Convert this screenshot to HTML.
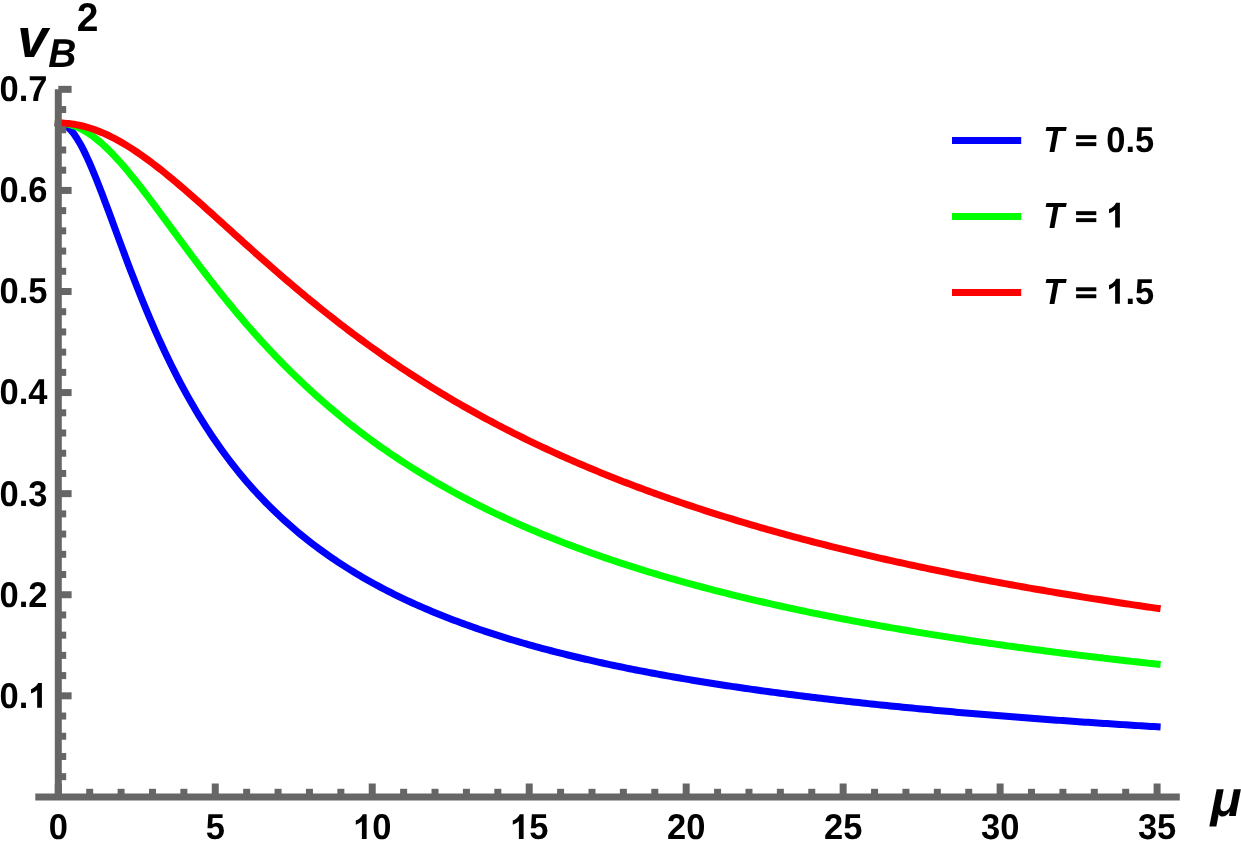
<!DOCTYPE html>
<html><head><meta charset="utf-8"><title>vB^2 vs mu</title>
<style>
html,body{margin:0;padding:0;background:#fff;}
body{width:1241px;height:848px;position:relative;overflow:hidden;font-family:"Liberation Sans",sans-serif;}
</style></head><body>
<svg width="1241" height="848" viewBox="0 0 1241 848" style="position:absolute;left:0;top:0;will-change:transform;text-rendering:geometricPrecision">
<rect width="1241" height="848" fill="#ffffff"/>
<path d="M58.30,123.03 L61.44,123.49 L64.58,124.84 L67.72,127.08 L70.86,130.16 L74.00,134.04 L77.14,138.67 L80.28,143.97 L83.42,149.89 L86.55,156.35 L89.69,163.28 L92.83,170.61 L95.97,178.27 L99.11,186.21 L102.25,194.36 L105.39,202.67 L108.53,211.09 L111.67,219.58 L114.81,228.11 L117.95,236.62 L121.09,245.11 L124.23,253.54 L127.37,261.90 L130.51,270.16 L133.65,278.31 L136.78,286.34 L139.92,294.24 L143.06,302.01 L146.20,309.63 L149.34,317.10 L152.48,324.42 L155.62,331.59 L158.76,338.61 L161.90,345.48 L165.04,352.19 L168.18,358.76 L171.32,365.17 L174.46,371.44 L177.60,377.56 L180.74,383.54 L183.88,389.38 L187.02,395.09 L190.15,400.66 L193.29,406.10 L196.43,411.41 L199.57,416.60 L202.71,421.67 L205.85,426.62 L208.99,431.46 L212.13,436.19 L215.27,440.80 L218.41,445.32 L221.55,449.73 L224.69,454.04 L227.83,458.25 L230.97,462.37 L234.11,466.40 L237.25,470.34 L240.39,474.19 L243.52,477.96 L246.66,481.65 L249.80,485.27 L252.94,488.80 L256.08,492.26 L259.22,495.65 L262.36,498.96 L265.50,502.21 L268.64,505.40 L271.78,508.51 L274.92,511.57 L278.06,514.56 L281.20,517.50 L284.34,520.38 L287.48,523.20 L290.62,525.96 L293.75,528.68 L296.89,531.34 L300.03,533.95 L303.17,536.51 L306.31,539.03 L309.45,541.50 L312.59,543.92 L315.73,546.30 L318.87,548.64 L322.01,550.93 L325.15,553.19 L328.29,555.40 L331.43,557.58 L334.57,559.72 L337.71,561.82 L340.85,563.88 L343.99,565.91 L347.12,567.91 L350.26,569.87 L353.40,571.80 L356.54,573.70 L359.68,575.57 L362.82,577.41 L365.96,579.22 L369.10,581.00 L372.24,582.75 L375.38,584.47 L378.52,586.17 L381.66,587.84 L384.80,589.48 L387.94,591.10 L391.08,592.69 L394.22,594.26 L397.36,595.81 L400.49,597.34 L403.63,598.84 L406.77,600.32 L409.91,601.77 L413.05,603.21 L416.19,604.63 L419.33,606.02 L422.47,607.40 L425.61,608.76 L428.75,610.09 L431.89,611.41 L435.03,612.71 L438.17,614.00 L441.31,615.26 L444.45,616.51 L447.59,617.74 L450.72,618.96 L453.86,620.16 L457.00,621.34 L460.14,622.51 L463.28,623.66 L466.42,624.80 L469.56,625.92 L472.70,627.03 L475.84,628.12 L478.98,629.20 L482.12,630.27 L485.26,631.32 L488.40,632.36 L491.54,633.39 L494.68,634.41 L497.82,635.41 L500.96,636.40 L504.09,637.38 L507.23,638.34 L510.37,639.30 L513.51,640.24 L516.65,641.18 L519.79,642.10 L522.93,643.01 L526.07,643.91 L529.21,644.80 L532.35,645.68 L535.49,646.55 L538.63,647.41 L541.77,648.26 L544.91,649.10 L548.05,649.93 L551.19,650.75 L554.33,651.57 L557.46,652.37 L560.60,653.17 L563.74,653.95 L566.88,654.73 L570.02,655.50 L573.16,656.26 L576.30,657.02 L579.44,657.76 L582.58,658.50 L585.72,659.23 L588.86,659.95 L592.00,660.67 L595.14,661.38 L598.28,662.08 L601.42,662.77 L604.56,663.46 L607.69,664.13 L610.83,664.81 L613.97,665.47 L617.11,666.13 L620.25,666.78 L623.39,667.43 L626.53,668.07 L629.67,668.70 L632.81,669.33 L635.95,669.95 L639.09,670.57 L642.23,671.18 L645.37,671.78 L648.51,672.38 L651.65,672.97 L654.79,673.56 L657.93,674.14 L661.06,674.71 L664.20,675.28 L667.34,675.85 L670.48,676.41 L673.62,676.96 L676.76,677.51 L679.90,678.06 L683.04,678.60 L686.18,679.13 L689.32,679.66 L692.46,680.19 L695.60,680.71 L698.74,681.22 L701.88,681.74 L705.02,682.24 L708.16,682.75 L711.30,683.24 L714.43,683.74 L717.57,684.23 L720.71,684.71 L723.85,685.19 L726.99,685.67 L730.13,686.14 L733.27,686.61 L736.41,687.08 L739.55,687.54 L742.69,688.00 L745.83,688.45 L748.97,688.90 L752.11,689.35 L755.25,689.79 L758.39,690.23 L761.53,690.66 L764.66,691.10 L767.80,691.53 L770.94,691.95 L774.08,692.37 L777.22,692.79 L780.36,693.21 L783.50,693.62 L786.64,694.03 L789.78,694.43 L792.92,694.83 L796.06,695.23 L799.20,695.63 L802.34,696.02 L805.48,696.41 L808.62,696.80 L811.76,697.18 L814.90,697.56 L818.03,697.94 L821.17,698.31 L824.31,698.69 L827.45,699.06 L830.59,699.42 L833.73,699.79 L836.87,700.15 L840.01,700.51 L843.15,700.86 L846.29,701.22 L849.43,701.57 L852.57,701.91 L855.71,702.26 L858.85,702.60 L861.99,702.94 L865.13,703.28 L868.27,703.62 L871.40,703.95 L874.54,704.28 L877.68,704.61 L880.82,704.94 L883.96,705.26 L887.10,705.58 L890.24,705.90 L893.38,706.22 L896.52,706.54 L899.66,706.85 L902.80,707.16 L905.94,707.47 L909.08,707.78 L912.22,708.08 L915.36,708.38 L918.50,708.68 L921.63,708.98 L924.77,709.28 L927.91,709.57 L931.05,709.86 L934.19,710.16 L937.33,710.44 L940.47,710.73 L943.61,711.02 L946.75,711.30 L949.89,711.58 L953.03,711.86 L956.17,712.14 L959.31,712.41 L962.45,712.69 L965.59,712.96 L968.73,713.23 L971.87,713.50 L975.00,713.76 L978.14,714.03 L981.28,714.29 L984.42,714.55 L987.56,714.81 L990.70,715.07 L993.84,715.33 L996.98,715.58 L1000.12,715.84 L1003.26,716.09 L1006.40,716.34 L1009.54,716.59 L1012.68,716.84 L1015.82,717.08 L1018.96,717.33 L1022.10,717.57 L1025.24,717.81 L1028.37,718.05 L1031.51,718.29 L1034.65,718.53 L1037.79,718.76 L1040.93,719.00 L1044.07,719.23 L1047.21,719.46 L1050.35,719.69 L1053.49,719.92 L1056.63,720.15 L1059.77,720.38 L1062.91,720.60 L1066.05,720.82 L1069.19,721.05 L1072.33,721.27 L1075.47,721.49 L1078.61,721.70 L1081.74,721.92 L1084.88,722.14 L1088.02,722.35 L1091.16,722.57 L1094.30,722.78 L1097.44,722.99 L1100.58,723.20 L1103.72,723.41 L1106.86,723.61 L1110.00,723.82 L1113.14,724.03 L1116.28,724.23 L1119.42,724.43 L1122.56,724.63 L1125.70,724.83 L1128.84,725.03 L1131.97,725.23 L1135.11,725.43 L1138.25,725.63 L1141.39,725.82 L1144.53,726.01 L1147.67,726.21 L1150.81,726.40 L1153.95,726.59 L1157.09,726.78" fill="none" stroke="#0000ff" stroke-width="7" stroke-linecap="square" stroke-linejoin="round"/>
<path d="M58.30,123.03 L61.44,123.15 L64.58,123.49 L67.72,124.05 L70.86,124.84 L74.00,125.85 L77.14,127.08 L80.28,128.52 L83.42,130.16 L86.55,132.01 L89.69,134.04 L92.83,136.27 L95.97,138.67 L99.11,141.24 L102.25,143.97 L105.39,146.86 L108.53,149.89 L111.67,153.06 L114.81,156.35 L117.95,159.76 L121.09,163.28 L124.23,166.90 L127.37,170.61 L130.51,174.40 L133.65,178.27 L136.78,182.21 L139.92,186.21 L143.06,190.26 L146.20,194.36 L149.34,198.50 L152.48,202.67 L155.62,206.87 L158.76,211.09 L161.90,215.33 L165.04,219.58 L168.18,223.84 L171.32,228.11 L174.46,232.37 L177.60,236.62 L180.74,240.87 L183.88,245.11 L187.02,249.34 L190.15,253.54 L193.29,257.73 L196.43,261.90 L199.57,266.04 L202.71,270.16 L205.85,274.25 L208.99,278.31 L212.13,282.34 L215.27,286.34 L218.41,290.31 L221.55,294.24 L224.69,298.14 L227.83,302.01 L230.97,305.83 L234.11,309.63 L237.25,313.38 L240.39,317.10 L243.52,320.78 L246.66,324.42 L249.80,328.03 L252.94,331.59 L256.08,335.12 L259.22,338.61 L262.36,342.07 L265.50,345.48 L268.64,348.86 L271.78,352.19 L274.92,355.49 L278.06,358.76 L281.20,361.98 L284.34,365.17 L287.48,368.32 L290.62,371.44 L293.75,374.52 L296.89,377.56 L300.03,380.57 L303.17,383.54 L306.31,386.48 L309.45,389.38 L312.59,392.25 L315.73,395.09 L318.87,397.89 L322.01,400.66 L325.15,403.39 L328.29,406.10 L331.43,408.77 L334.57,411.41 L337.71,414.02 L340.85,416.60 L343.99,419.15 L347.12,421.67 L350.26,424.16 L353.40,426.62 L356.54,429.05 L359.68,431.46 L362.82,433.84 L365.96,436.19 L369.10,438.51 L372.24,440.80 L375.38,443.07 L378.52,445.32 L381.66,447.53 L384.80,449.73 L387.94,451.89 L391.08,454.04 L394.22,456.15 L397.36,458.25 L400.49,460.32 L403.63,462.37 L406.77,464.40 L409.91,466.40 L413.05,468.38 L416.19,470.34 L419.33,472.28 L422.47,474.19 L425.61,476.09 L428.75,477.96 L431.89,479.82 L435.03,481.65 L438.17,483.47 L441.31,485.27 L444.45,487.04 L447.59,488.80 L450.72,490.54 L453.86,492.26 L457.00,493.96 L460.14,495.65 L463.28,497.31 L466.42,498.96 L469.56,500.60 L472.70,502.21 L475.84,503.81 L478.98,505.40 L482.12,506.96 L485.26,508.51 L488.40,510.05 L491.54,511.57 L494.68,513.07 L497.82,514.56 L500.96,516.04 L504.09,517.50 L507.23,518.94 L510.37,520.38 L513.51,521.79 L516.65,523.20 L519.79,524.59 L522.93,525.96 L526.07,527.33 L529.21,528.68 L532.35,530.02 L535.49,531.34 L538.63,532.65 L541.77,533.95 L544.91,535.24 L548.05,536.51 L551.19,537.78 L554.33,539.03 L557.46,540.27 L560.60,541.50 L563.74,542.72 L566.88,543.92 L570.02,545.12 L573.16,546.30 L576.30,547.48 L579.44,548.64 L582.58,549.79 L585.72,550.93 L588.86,552.07 L592.00,553.19 L595.14,554.30 L598.28,555.40 L601.42,556.50 L604.56,557.58 L607.69,558.65 L610.83,559.72 L613.97,560.77 L617.11,561.82 L620.25,562.86 L623.39,563.88 L626.53,564.90 L629.67,565.91 L632.81,566.92 L635.95,567.91 L639.09,568.90 L642.23,569.87 L645.37,570.84 L648.51,571.80 L651.65,572.76 L654.79,573.70 L657.93,574.64 L661.06,575.57 L664.20,576.49 L667.34,577.41 L670.48,578.32 L673.62,579.22 L676.76,580.11 L679.90,581.00 L683.04,581.87 L686.18,582.75 L689.32,583.61 L692.46,584.47 L695.60,585.32 L698.74,586.17 L701.88,587.00 L705.02,587.84 L708.16,588.66 L711.30,589.48 L714.43,590.29 L717.57,591.10 L720.71,591.90 L723.85,592.69 L726.99,593.48 L730.13,594.26 L733.27,595.04 L736.41,595.81 L739.55,596.58 L742.69,597.34 L745.83,598.09 L748.97,598.84 L752.11,599.58 L755.25,600.32 L758.39,601.05 L761.53,601.77 L764.66,602.50 L767.80,603.21 L770.94,603.92 L774.08,604.63 L777.22,605.33 L780.36,606.02 L783.50,606.71 L786.64,607.40 L789.78,608.08 L792.92,608.76 L796.06,609.43 L799.20,610.09 L802.34,610.76 L805.48,611.41 L808.62,612.07 L811.76,612.71 L814.90,613.36 L818.03,614.00 L821.17,614.63 L824.31,615.26 L827.45,615.89 L830.59,616.51 L833.73,617.13 L836.87,617.74 L840.01,618.35 L843.15,618.96 L846.29,619.56 L849.43,620.16 L852.57,620.75 L855.71,621.34 L858.85,621.93 L861.99,622.51 L865.13,623.09 L868.27,623.66 L871.40,624.23 L874.54,624.80 L877.68,625.36 L880.82,625.92 L883.96,626.48 L887.10,627.03 L890.24,627.58 L893.38,628.12 L896.52,628.66 L899.66,629.20 L902.80,629.74 L905.94,630.27 L909.08,630.80 L912.22,631.32 L915.36,631.85 L918.50,632.36 L921.63,632.88 L924.77,633.39 L927.91,633.90 L931.05,634.41 L934.19,634.91 L937.33,635.41 L940.47,635.91 L943.61,636.40 L946.75,636.89 L949.89,637.38 L953.03,637.86 L956.17,638.34 L959.31,638.82 L962.45,639.30 L965.59,639.77 L968.73,640.24 L971.87,640.71 L975.00,641.18 L978.14,641.64 L981.28,642.10 L984.42,642.56 L987.56,643.01 L990.70,643.46 L993.84,643.91 L996.98,644.36 L1000.12,644.80 L1003.26,645.24 L1006.40,645.68 L1009.54,646.12 L1012.68,646.55 L1015.82,646.98 L1018.96,647.41 L1022.10,647.84 L1025.24,648.26 L1028.37,648.68 L1031.51,649.10 L1034.65,649.52 L1037.79,649.93 L1040.93,650.34 L1044.07,650.75 L1047.21,651.16 L1050.35,651.57 L1053.49,651.97 L1056.63,652.37 L1059.77,652.77 L1062.91,653.17 L1066.05,653.56 L1069.19,653.95 L1072.33,654.34 L1075.47,654.73 L1078.61,655.12 L1081.74,655.50 L1084.88,655.88 L1088.02,656.26 L1091.16,656.64 L1094.30,657.02 L1097.44,657.39 L1100.58,657.76 L1103.72,658.13 L1106.86,658.50 L1110.00,658.87 L1113.14,659.23 L1116.28,659.59 L1119.42,659.95 L1122.56,660.31 L1125.70,660.67 L1128.84,661.02 L1131.97,661.38 L1135.11,661.73 L1138.25,662.08 L1141.39,662.42 L1144.53,662.77 L1147.67,663.11 L1150.81,663.46 L1153.95,663.80 L1157.09,664.13" fill="none" stroke="#00ff00" stroke-width="7" stroke-linecap="square" stroke-linejoin="round"/>
<path d="M58.30,123.03 L61.44,123.08 L64.58,123.24 L67.72,123.49 L70.86,123.84 L74.00,124.29 L77.14,124.84 L80.28,125.49 L83.42,126.24 L86.55,127.08 L89.69,128.02 L92.83,129.04 L95.97,130.16 L99.11,131.37 L102.25,132.66 L105.39,134.04 L108.53,135.51 L111.67,137.05 L114.81,138.67 L117.95,140.36 L121.09,142.13 L124.23,143.97 L127.37,145.88 L130.51,147.85 L133.65,149.89 L136.78,151.99 L139.92,154.14 L143.06,156.35 L146.20,158.61 L149.34,160.92 L152.48,163.28 L155.62,165.68 L158.76,168.12 L161.90,170.61 L165.04,173.13 L168.18,175.69 L171.32,178.27 L174.46,180.89 L177.60,183.54 L180.74,186.21 L183.88,188.91 L187.02,191.62 L190.15,194.36 L193.29,197.12 L196.43,199.89 L199.57,202.67 L202.71,205.47 L205.85,208.28 L208.99,211.09 L212.13,213.92 L215.27,216.75 L218.41,219.58 L221.55,222.42 L224.69,225.26 L227.83,228.11 L230.97,230.95 L234.11,233.79 L237.25,236.62 L240.39,239.46 L243.52,242.29 L246.66,245.11 L249.80,247.93 L252.94,250.74 L256.08,253.54 L259.22,256.34 L262.36,259.12 L265.50,261.90 L268.64,264.66 L271.78,267.42 L274.92,270.16 L278.06,272.89 L281.20,275.61 L284.34,278.31 L287.48,281.00 L290.62,283.68 L293.75,286.34 L296.89,288.99 L300.03,291.62 L303.17,294.24 L306.31,296.85 L309.45,299.43 L312.59,302.01 L315.73,304.56 L318.87,307.10 L322.01,309.63 L325.15,312.13 L328.29,314.63 L331.43,317.10 L334.57,319.56 L337.71,322.00 L340.85,324.42 L343.99,326.83 L347.12,329.22 L350.26,331.59 L353.40,333.95 L356.54,336.29 L359.68,338.61 L362.82,340.92 L365.96,343.21 L369.10,345.48 L372.24,347.73 L375.38,349.97 L378.52,352.19 L381.66,354.40 L384.80,356.59 L387.94,358.76 L391.08,360.91 L394.22,363.05 L397.36,365.17 L400.49,367.28 L403.63,369.37 L406.77,371.44 L409.91,373.49 L413.05,375.54 L416.19,377.56 L419.33,379.57 L422.47,381.56 L425.61,383.54 L428.75,385.50 L431.89,387.45 L435.03,389.38 L438.17,391.30 L441.31,393.20 L444.45,395.09 L447.59,396.96 L450.72,398.81 L453.86,400.66 L457.00,402.49 L460.14,404.30 L463.28,406.10 L466.42,407.88 L469.56,409.65 L472.70,411.41 L475.84,413.16 L478.98,414.89 L482.12,416.60 L485.26,418.30 L488.40,419.99 L491.54,421.67 L494.68,423.33 L497.82,424.98 L500.96,426.62 L504.09,428.25 L507.23,429.86 L510.37,431.46 L513.51,433.05 L516.65,434.62 L519.79,436.19 L522.93,437.74 L526.07,439.28 L529.21,440.80 L532.35,442.32 L535.49,443.82 L538.63,445.32 L541.77,446.80 L544.91,448.27 L548.05,449.73 L551.19,451.17 L554.33,452.61 L557.46,454.04 L560.60,455.45 L563.74,456.86 L566.88,458.25 L570.02,459.63 L573.16,461.01 L576.30,462.37 L579.44,463.72 L582.58,465.07 L585.72,466.40 L588.86,467.72 L592.00,469.04 L595.14,470.34 L598.28,471.63 L601.42,472.92 L604.56,474.19 L607.69,475.46 L610.83,476.72 L613.97,477.96 L617.11,479.20 L620.25,480.43 L623.39,481.65 L626.53,482.87 L629.67,484.07 L632.81,485.27 L635.95,486.45 L639.09,487.63 L642.23,488.80 L645.37,489.96 L648.51,491.11 L651.65,492.26 L654.79,493.40 L657.93,494.53 L661.06,495.65 L664.20,496.76 L667.34,497.87 L670.48,498.96 L673.62,500.05 L676.76,501.14 L679.90,502.21 L683.04,503.28 L686.18,504.34 L689.32,505.40 L692.46,506.44 L695.60,507.48 L698.74,508.51 L701.88,509.54 L705.02,510.56 L708.16,511.57 L711.30,512.57 L714.43,513.57 L717.57,514.56 L720.71,515.55 L723.85,516.53 L726.99,517.50 L730.13,518.46 L733.27,519.42 L736.41,520.38 L739.55,521.32 L742.69,522.26 L745.83,523.20 L748.97,524.13 L752.11,525.05 L755.25,525.96 L758.39,526.87 L761.53,527.78 L764.66,528.68 L767.80,529.57 L770.94,530.46 L774.08,531.34 L777.22,532.22 L780.36,533.09 L783.50,533.95 L786.64,534.81 L789.78,535.67 L792.92,536.51 L796.06,537.36 L799.20,538.20 L802.34,539.03 L805.48,539.86 L808.62,540.68 L811.76,541.50 L814.90,542.31 L818.03,543.12 L821.17,543.92 L824.31,544.72 L827.45,545.51 L830.59,546.30 L833.73,547.09 L836.87,547.86 L840.01,548.64 L843.15,549.41 L846.29,550.17 L849.43,550.93 L852.57,551.69 L855.71,552.44 L858.85,553.19 L861.99,553.93 L865.13,554.67 L868.27,555.40 L871.40,556.13 L874.54,556.86 L877.68,557.58 L880.82,558.30 L883.96,559.01 L887.10,559.72 L890.24,560.42 L893.38,561.12 L896.52,561.82 L899.66,562.51 L902.80,563.20 L905.94,563.88 L909.08,564.56 L912.22,565.24 L915.36,565.91 L918.50,566.58 L921.63,567.25 L924.77,567.91 L927.91,568.57 L931.05,569.22 L934.19,569.87 L937.33,570.52 L940.47,571.16 L943.61,571.80 L946.75,572.44 L949.89,573.07 L953.03,573.70 L956.17,574.33 L959.31,574.95 L962.45,575.57 L965.59,576.19 L968.73,576.80 L971.87,577.41 L975.00,578.01 L978.14,578.62 L981.28,579.22 L984.42,579.81 L987.56,580.41 L990.70,581.00 L993.84,581.58 L996.98,582.17 L1000.12,582.75 L1003.26,583.32 L1006.40,583.90 L1009.54,584.47 L1012.68,585.04 L1015.82,585.60 L1018.96,586.17 L1022.10,586.73 L1025.24,587.28 L1028.37,587.84 L1031.51,588.39 L1034.65,588.93 L1037.79,589.48 L1040.93,590.02 L1044.07,590.56 L1047.21,591.10 L1050.35,591.63 L1053.49,592.17 L1056.63,592.69 L1059.77,593.22 L1062.91,593.74 L1066.05,594.26 L1069.19,594.78 L1072.33,595.30 L1075.47,595.81 L1078.61,596.32 L1081.74,596.83 L1084.88,597.34 L1088.02,597.84 L1091.16,598.34 L1094.30,598.84 L1097.44,599.33 L1100.58,599.83 L1103.72,600.32 L1106.86,600.80 L1110.00,601.29 L1113.14,601.77 L1116.28,602.26 L1119.42,602.73 L1122.56,603.21 L1125.70,603.69 L1128.84,604.16 L1131.97,604.63 L1135.11,605.09 L1138.25,605.56 L1141.39,606.02 L1144.53,606.48 L1147.67,606.94 L1150.81,607.40 L1153.95,607.85 L1157.09,608.31" fill="none" stroke="#ff0000" stroke-width="7" stroke-linecap="square" stroke-linejoin="round"/>
<g stroke="#666666" stroke-width="7.0" fill="none"><line x1="35.3" y1="796.90" x2="1179.8" y2="796.90"/><line x1="58.30" y1="89.34" x2="58.30" y2="796.90"/><line x1="58.30" y1="796.90" x2="58.30" y2="783.50"/><line x1="89.69" y1="796.90" x2="89.69" y2="788.80"/><line x1="121.09" y1="796.90" x2="121.09" y2="788.80"/><line x1="152.48" y1="796.90" x2="152.48" y2="788.80"/><line x1="183.88" y1="796.90" x2="183.88" y2="788.80"/><line x1="215.27" y1="796.90" x2="215.27" y2="783.50"/><line x1="246.66" y1="796.90" x2="246.66" y2="788.80"/><line x1="278.06" y1="796.90" x2="278.06" y2="788.80"/><line x1="309.45" y1="796.90" x2="309.45" y2="788.80"/><line x1="340.85" y1="796.90" x2="340.85" y2="788.80"/><line x1="372.24" y1="796.90" x2="372.24" y2="783.50"/><line x1="403.63" y1="796.90" x2="403.63" y2="788.80"/><line x1="435.03" y1="796.90" x2="435.03" y2="788.80"/><line x1="466.42" y1="796.90" x2="466.42" y2="788.80"/><line x1="497.82" y1="796.90" x2="497.82" y2="788.80"/><line x1="529.21" y1="796.90" x2="529.21" y2="783.50"/><line x1="560.60" y1="796.90" x2="560.60" y2="788.80"/><line x1="592.00" y1="796.90" x2="592.00" y2="788.80"/><line x1="623.39" y1="796.90" x2="623.39" y2="788.80"/><line x1="654.79" y1="796.90" x2="654.79" y2="788.80"/><line x1="686.18" y1="796.90" x2="686.18" y2="783.50"/><line x1="717.57" y1="796.90" x2="717.57" y2="788.80"/><line x1="748.97" y1="796.90" x2="748.97" y2="788.80"/><line x1="780.36" y1="796.90" x2="780.36" y2="788.80"/><line x1="811.76" y1="796.90" x2="811.76" y2="788.80"/><line x1="843.15" y1="796.90" x2="843.15" y2="783.50"/><line x1="874.54" y1="796.90" x2="874.54" y2="788.80"/><line x1="905.94" y1="796.90" x2="905.94" y2="788.80"/><line x1="937.33" y1="796.90" x2="937.33" y2="788.80"/><line x1="968.73" y1="796.90" x2="968.73" y2="788.80"/><line x1="1000.12" y1="796.90" x2="1000.12" y2="783.50"/><line x1="1031.51" y1="796.90" x2="1031.51" y2="788.80"/><line x1="1062.91" y1="796.90" x2="1062.91" y2="788.80"/><line x1="1094.30" y1="796.90" x2="1094.30" y2="788.80"/><line x1="1125.70" y1="796.90" x2="1125.70" y2="788.80"/><line x1="1157.09" y1="796.90" x2="1157.09" y2="783.50"/><line x1="58.30" y1="776.68" x2="66.20" y2="776.68"/><line x1="58.30" y1="756.47" x2="66.20" y2="756.47"/><line x1="58.30" y1="736.25" x2="66.20" y2="736.25"/><line x1="58.30" y1="716.04" x2="66.20" y2="716.04"/><line x1="58.30" y1="695.82" x2="71.60" y2="695.82"/><line x1="58.30" y1="675.60" x2="66.20" y2="675.60"/><line x1="58.30" y1="655.39" x2="66.20" y2="655.39"/><line x1="58.30" y1="635.17" x2="66.20" y2="635.17"/><line x1="58.30" y1="614.96" x2="66.20" y2="614.96"/><line x1="58.30" y1="594.74" x2="71.60" y2="594.74"/><line x1="58.30" y1="574.52" x2="66.20" y2="574.52"/><line x1="58.30" y1="554.31" x2="66.20" y2="554.31"/><line x1="58.30" y1="534.09" x2="66.20" y2="534.09"/><line x1="58.30" y1="513.88" x2="66.20" y2="513.88"/><line x1="58.30" y1="493.66" x2="71.60" y2="493.66"/><line x1="58.30" y1="473.44" x2="66.20" y2="473.44"/><line x1="58.30" y1="453.23" x2="66.20" y2="453.23"/><line x1="58.30" y1="433.01" x2="66.20" y2="433.01"/><line x1="58.30" y1="412.80" x2="66.20" y2="412.80"/><line x1="58.30" y1="392.58" x2="71.60" y2="392.58"/><line x1="58.30" y1="372.36" x2="66.20" y2="372.36"/><line x1="58.30" y1="352.15" x2="66.20" y2="352.15"/><line x1="58.30" y1="331.93" x2="66.20" y2="331.93"/><line x1="58.30" y1="311.72" x2="66.20" y2="311.72"/><line x1="58.30" y1="291.50" x2="71.60" y2="291.50"/><line x1="58.30" y1="271.28" x2="66.20" y2="271.28"/><line x1="58.30" y1="251.07" x2="66.20" y2="251.07"/><line x1="58.30" y1="230.85" x2="66.20" y2="230.85"/><line x1="58.30" y1="210.64" x2="66.20" y2="210.64"/><line x1="58.30" y1="190.42" x2="71.60" y2="190.42"/><line x1="58.30" y1="170.20" x2="66.20" y2="170.20"/><line x1="58.30" y1="149.99" x2="66.20" y2="149.99"/><line x1="58.30" y1="129.77" x2="66.20" y2="129.77"/><line x1="58.30" y1="109.56" x2="66.20" y2="109.56"/><line x1="58.30" y1="89.34" x2="71.60" y2="89.34"/></g>
<g fill="#000"><g aria-label="0"><text transform="translate(48.71,839.00) scale(1,1.040)" font-family="'Liberation Sans', sans-serif" font-weight="bold" font-size="34.5">0</text></g><g aria-label="5"><text transform="translate(205.68,839.00) scale(1,1.040)" font-family="'Liberation Sans', sans-serif" font-weight="bold" font-size="34.5">5</text></g><g aria-label="10"><path transform="translate(353.06,839.00) scale(0.016846,-0.016846)" d="M806,0 L525,0 L525,1059 Q371,915 162,846 L162,1101 Q272,1137 401,1237.5 Q530,1338 578,1472 L806,1472 Z"/><text transform="translate(372.24,839.00) scale(1,1.040)" font-family="'Liberation Sans', sans-serif" font-weight="bold" font-size="34.5">0</text></g><g aria-label="15"><path transform="translate(510.03,839.00) scale(0.016846,-0.016846)" d="M806,0 L525,0 L525,1059 Q371,915 162,846 L162,1101 Q272,1137 401,1237.5 Q530,1338 578,1472 L806,1472 Z"/><text transform="translate(529.21,839.00) scale(1,1.040)" font-family="'Liberation Sans', sans-serif" font-weight="bold" font-size="34.5">5</text></g><g aria-label="20"><text transform="translate(667.00,839.00) scale(1,1.040)" font-family="'Liberation Sans', sans-serif" font-weight="bold" font-size="34.5">20</text></g><g aria-label="25"><text transform="translate(823.97,839.00) scale(1,1.040)" font-family="'Liberation Sans', sans-serif" font-weight="bold" font-size="34.5">25</text></g><g aria-label="30"><text transform="translate(980.94,839.00) scale(1,1.040)" font-family="'Liberation Sans', sans-serif" font-weight="bold" font-size="34.5">30</text></g><g aria-label="35"><text transform="translate(1137.91,839.00) scale(1,1.040)" font-family="'Liberation Sans', sans-serif" font-weight="bold" font-size="34.5">35</text></g><g aria-label="0.1"><text transform="translate(-0.46,707.72) scale(1,1.040)" font-family="'Liberation Sans', sans-serif" font-weight="bold" font-size="34.5">0.</text><path transform="translate(28.32,707.72) scale(0.016846,-0.016846)" d="M806,0 L525,0 L525,1059 Q371,915 162,846 L162,1101 Q272,1137 401,1237.5 Q530,1338 578,1472 L806,1472 Z"/></g><g aria-label="0.2"><text transform="translate(-0.46,606.64) scale(1,1.040)" font-family="'Liberation Sans', sans-serif" font-weight="bold" font-size="34.5">0.2</text></g><g aria-label="0.3"><text transform="translate(-0.46,505.56) scale(1,1.040)" font-family="'Liberation Sans', sans-serif" font-weight="bold" font-size="34.5">0.3</text></g><g aria-label="0.4"><text transform="translate(-0.46,404.48) scale(1,1.040)" font-family="'Liberation Sans', sans-serif" font-weight="bold" font-size="34.5">0.4</text></g><g aria-label="0.5"><text transform="translate(-0.46,303.40) scale(1,1.040)" font-family="'Liberation Sans', sans-serif" font-weight="bold" font-size="34.5">0.5</text></g><g aria-label="0.6"><text transform="translate(-0.46,202.32) scale(1,1.040)" font-family="'Liberation Sans', sans-serif" font-weight="bold" font-size="34.5">0.6</text></g><g aria-label="0.7"><text transform="translate(-0.46,101.24) scale(1,1.040)" font-family="'Liberation Sans', sans-serif" font-weight="bold" font-size="34.5">0.7</text></g></g>
<line x1="952" y1="140.4" x2="1021.2" y2="140.4" stroke="#0000ff" stroke-width="7"/>
<text transform="translate(1043.2,151.80) scale(1,1.055)" font-family="'Liberation Sans', sans-serif" font-weight="bold" font-style="italic" font-size="34.5" fill="#000">T</text>
<rect x="1076.1" y="135.20" width="20.2" height="3.9" fill="#000"/>
<rect x="1076.1" y="142.20" width="20.2" height="3.9" fill="#000"/>
<g fill="#000"><g aria-label="0.5"><text transform="translate(1106.30,151.55) scale(1,1.040)" font-family="'Liberation Sans', sans-serif" font-weight="bold" font-size="34.5">0.5</text></g></g>
<line x1="952" y1="216.4" x2="1021.2" y2="216.4" stroke="#00ff00" stroke-width="7"/>
<text transform="translate(1043.2,227.80) scale(1,1.055)" font-family="'Liberation Sans', sans-serif" font-weight="bold" font-style="italic" font-size="34.5" fill="#000">T</text>
<rect x="1076.1" y="211.20" width="20.2" height="3.9" fill="#000"/>
<rect x="1076.1" y="218.20" width="20.2" height="3.9" fill="#000"/>
<g fill="#000"><g aria-label="1"><path transform="translate(1106.30,227.55) scale(0.016846,-0.016846)" d="M806,0 L525,0 L525,1059 Q371,915 162,846 L162,1101 Q272,1137 401,1237.5 Q530,1338 578,1472 L806,1472 Z"/></g></g>
<line x1="952" y1="292.5" x2="1021.2" y2="292.5" stroke="#ff0000" stroke-width="7"/>
<text transform="translate(1043.2,303.90) scale(1,1.055)" font-family="'Liberation Sans', sans-serif" font-weight="bold" font-style="italic" font-size="34.5" fill="#000">T</text>
<rect x="1076.1" y="287.30" width="20.2" height="3.9" fill="#000"/>
<rect x="1076.1" y="294.30" width="20.2" height="3.9" fill="#000"/>
<g fill="#000"><g aria-label="1.5"><path transform="translate(1106.30,303.65) scale(0.016846,-0.016846)" d="M806,0 L525,0 L525,1059 Q371,915 162,846 L162,1101 Q272,1137 401,1237.5 Q530,1338 578,1472 L806,1472 Z"/><text transform="translate(1125.48,303.65) scale(1,1.040)" font-family="'Liberation Sans', sans-serif" font-weight="bold" font-size="34.5">.5</text></g></g>
<text x="17.2" y="57" font-family="'Liberation Sans', sans-serif" font-weight="bold" font-style="italic" font-size="55" fill="#000">v</text>
<text transform="translate(48.2,66.7) scale(1,1.03)" font-family="'Liberation Sans', sans-serif" font-weight="bold" font-style="italic" font-size="39" fill="#000">B</text>
<text transform="translate(76.7,30.9) scale(1,1.03)" font-family="'Liberation Sans', sans-serif" font-weight="bold" font-size="39" fill="#000">2</text>
<text transform="translate(1210.4,816.3) scale(1,0.985)" font-family="'Liberation Sans', sans-serif" font-weight="bold" font-style="italic" font-size="51.5" fill="#000">μ</text>
</svg>
</body></html>
